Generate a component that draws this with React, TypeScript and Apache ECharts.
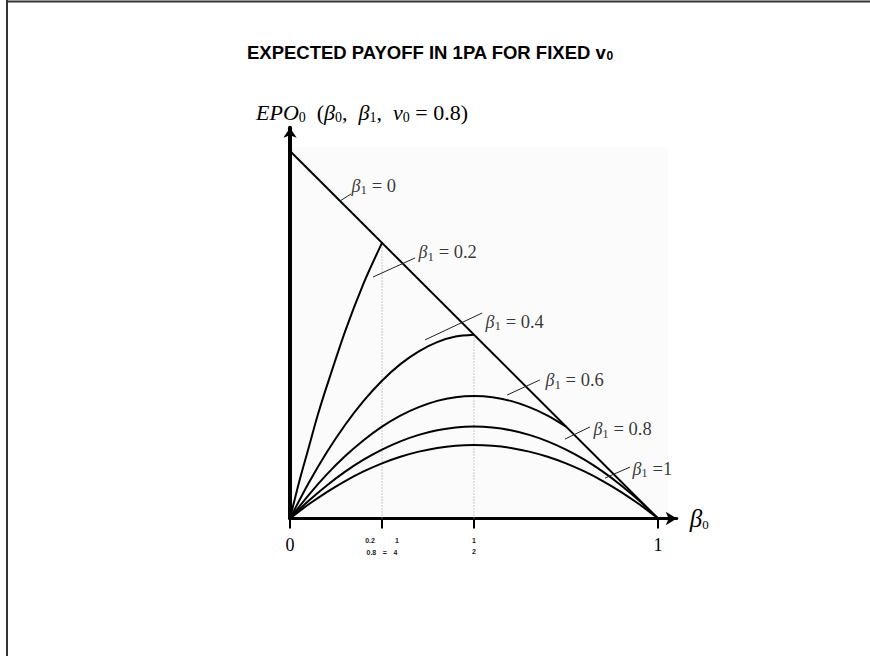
import React, { useEffect, useRef } from "react";
import * as echarts from "echarts";

// ---- data ----
const TITLE_MAIN = "EXPECTED PAYOFF IN 1PA FOR FIXED v";
const TITLE_SUB = "0";

// beta1 = 0 (straight diagonal)
const beta0Diag = [0, 1];
const payoffDiag = [1, 0];

// beta1 = 0.2
const beta0B02 = [0, 0.025, 0.05, 0.075, 0.1, 0.15, 0.2, 0.25];
const payoffB02 = [0, 0.1, 0.19, 0.28, 0.36, 0.51, 0.64, 0.75];

// beta1 = 0.4
const beta0B04 = [0, 0.05, 0.1, 0.15, 0.2, 0.25, 0.3, 0.35, 0.4, 0.45, 0.5];
const payoffB04 = [0, 0.095, 0.18, 0.255, 0.32, 0.375, 0.42, 0.455, 0.48, 0.495, 0.5];

// beta1 = 0.6
const beta0B06 = [0, 0.05, 0.1, 0.15, 0.2, 0.25, 0.3, 0.35, 0.4, 0.45, 0.5, 0.55, 0.6, 0.65, 0.7, 0.75];
const payoffB06 = [0, 0.063, 0.12, 0.17, 0.213, 0.25, 0.28, 0.303, 0.32, 0.33, 0.333, 0.33, 0.32, 0.303, 0.28, 0.25];

// beta1 = 0.8 and beta1 = 1
const beta0Full = [0, 0.05, 0.1, 0.15, 0.2, 0.25, 0.3, 0.35, 0.4, 0.45, 0.5, 0.55, 0.6, 0.65, 0.7, 0.75, 0.8, 0.85, 0.9, 0.95, 1];
const payoffB08 = [0, 0.0475, 0.09, 0.1275, 0.16, 0.1875, 0.21, 0.2275, 0.24, 0.2475, 0.25, 0.2475, 0.24, 0.2275, 0.21, 0.1875, 0.16, 0.1275, 0.09, 0.0475, 0];
const payoffB10 = [0, 0.038, 0.072, 0.102, 0.128, 0.15, 0.168, 0.182, 0.192, 0.198, 0.2, 0.198, 0.192, 0.182, 0.168, 0.15, 0.128, 0.102, 0.072, 0.038, 0];

// dotted guides
const guideX = [0.25, 0.5];
const guideTop = [0.75, 0.5];

// x tick values
const tickValues = [0, 0.25, 0.5, 1];

// curve labels (beta1 values)
const curveLabels = ["0", "0.2", "0.4", "0.6", "0.8", "1"];

// ---- annotation placement (data coordinates) ----
const labelAnchors = [
  [0.166, 0.905],
  [0.348, 0.725],
  [0.53, 0.535],
  [0.693, 0.3755],
  [0.823, 0.2435],
  [0.929, 0.135],
];
const leaderFrom = [
  [0.136, 0.864],
  [0.2255, 0.657],
  [0.367, 0.486],
  [0.59, 0.336],
  [0.747, 0.216],
  [0.856, 0.11],
];
const leaderTo = [
  [0.166, 0.883],
  [0.34, 0.709],
  [0.522, 0.559],
  [0.679, 0.377],
  [0.815, 0.249],
  [0.924, 0.14],
];

const zip = (xs: number[], ys: number[]) => xs.map((x, i) => [x, ys[i]]);

const SERIF = "'Liberation Serif', 'Times New Roman', serif";
const SANS = "'Liberation Sans', Arial, sans-serif";

export default function App() {
  const ref = useRef<HTMLDivElement>(null);

  useEffect(() => {
    if (!ref.current) return;
    const chart = echarts.init(ref.current, undefined, { renderer: "svg" });

    const curveStyle = { color: "#000", width: 2 };
    const curve = (name: string, data: number[][]) => ({
      name,
      type: "line",
      data,
      symbol: "none",
      smooth: 0.3,
      lineStyle: curveStyle,
      z: 3,
      silent: true,
    });

    const series: any[] = [
      curve("b0", zip(beta0Diag, payoffDiag)),
      curve("b02", zip(beta0B02, payoffB02)),
      curve("b04", zip(beta0B04, payoffB04)),
      curve("b06", zip(beta0B06, payoffB06)),
      curve("b08", zip(beta0Full, payoffB08)),
      curve("b10", zip(beta0Full, payoffB10)),
    ];

    guideX.forEach((gx, i) => {
      series.push({
        type: "line",
        data: [
          [gx, 0],
          [gx, guideTop[i]],
        ],
        symbol: "none",
        lineStyle: { color: "#999", width: 1, type: [1, 2] },
        z: 2,
        silent: true,
      });
    });

    leaderFrom.forEach((p, i) => {
      series.push({
        type: "line",
        data: [p, leaderTo[i]],
        symbol: "none",
        lineStyle: { color: "#222", width: 1 },
        z: 3,
        silent: true,
      });
    });

    series.push({
      type: "scatter",
      symbolSize: 1,
      itemStyle: { color: "rgba(0,0,0,0)" },
      silent: true,
      z: 4,
      data: labelAnchors.map((p, i) => ({
        value: p,
        label: {
          show: true,
          position: "right",
          distance: 0,
          formatter:
            curveLabels[i] === "1"
              ? "{b|β}{s|1}{t| =1}"
              : "{b|β}{s|1}{t| = " + curveLabels[i] + "}",
          rich: {
            b: { fontFamily: SERIF, fontSize: 18, fontStyle: "italic", color: "#000" },
            s: { fontFamily: SERIF, fontSize: 13, color: "#000", padding: [8, 0, 0, 0] },
            t: { fontFamily: SERIF, fontSize: 18.5, color: "#000" },
          },
        },
      })),
    });

    const option: any = {
      animation: false,
      backgroundColor: "#fff",
      title: {
        text: "{t|" + TITLE_MAIN + "}{s|" + TITLE_SUB + "}",
        left: 242,
        top: 37,
        textStyle: {
          rich: {
            t: { fontFamily: SANS, fontSize: 18.5, fontWeight: "bold", color: "#000" },
            s: { fontFamily: SANS, fontSize: 12, fontWeight: "bold", color: "#000", padding: [8, 0, 0, 0] },
          },
        },
      },
      grid: { left: 290, right: 193.2, top: 127.8, bottom: 137.5, containLabel: false },
      xAxis: {
        type: "value",
        min: 0,
        max: 1.051,
        splitLine: { show: false },
        name: "{b|β}{s|0}",
        nameLocation: "end",
        nameGap: 13,
        nameTextStyle: {
          rich: {
            b: { fontFamily: SERIF, fontSize: 25, fontStyle: "italic", color: "#000" },
            s: { fontFamily: SERIF, fontSize: 13, color: "#000", padding: [12, 0, 0, 0] },
          },
        },
        axisLine: {
          show: true,
          onZero: false,
          symbol: ["none", "arrow"],
          symbolSize: [10, 11],
          lineStyle: { color: "#000", width: 3 },
        },
        axisTick: {
          show: true,
          customValues: tickValues,
          length: 10,
          lineStyle: { color: "#000", width: 2 },
        },
        axisLabel: {
          show: true,
          customValues: tickValues,
          margin: 16,
          formatter: (v: number) => {
            if (v === 0) return "{n|0}";
            if (v === 1) return "{n|1}";
            if (v === 0.5) return "{f|1}\n{f|2}";
            return "{f|0.2}      {f|1}\n{f|0.8}  {f|=}  {f|4}";
          },
          rich: {
            n: { fontFamily: SERIF, fontSize: 18, lineHeight: 20, color: "#000" },
            f: { fontFamily: SANS, fontSize: 7, fontWeight: "bold", lineHeight: 11, color: "#222" },
          },
        },
      },
      yAxis: {
        type: "value",
        min: 0,
        max: 1.063,
        splitLine: { show: false },
        axisLine: {
          show: true,
          onZero: false,
          symbol: ["none", "arrow"],
          symbolSize: [10, 10],
          lineStyle: { color: "#000", width: 4 },
        },
        axisTick: { show: false },
        axisLabel: { show: false },
      },
      graphic: [
        {
          type: "rect",
          z: -10,
          silent: true,
          shape: { x: 292, y: 147, width: 376, height: 371 },
          style: { fill: "#fbfbfb" },
        },
        {
          type: "line",
          silent: true,
          shape: { x1: 6, y1: 1.5, x2: 870, y2: 1.5 },
          style: { stroke: "#333", lineWidth: 2 },
        },
        {
          type: "line",
          silent: true,
          shape: { x1: 7, y1: 0, x2: 7, y2: 656 },
          style: { stroke: "#333", lineWidth: 2 },
        },
        {
          type: "text",
          silent: true,
          x: 256,
          y: 100,
          style: {
            text:
              "{i|EPO}{s|0}{r|  (}{i|β}{s|0}{r|,  }{i|β}{s|1}{r|,  }{i|v}{s|0}{r| = 0.8)}",
            rich: {
              i: { fontFamily: SERIF, fontSize: 22, fontStyle: "italic", fill: "#000" },
              r: { fontFamily: SERIF, fontSize: 22, fill: "#000" },
              s: { fontFamily: SERIF, fontSize: 14, fill: "#000", padding: [10, 0, 0, 0] },
            },
          },
        },
      ],
      series,
    };

    chart.setOption(option);
    return () => chart.dispose();
  }, []);

  return (
    <div
      ref={ref}
      style={{ position: "absolute", left: 0, top: 0, width: 870, height: 656, background: "#fff" }}
    />
  );
}
